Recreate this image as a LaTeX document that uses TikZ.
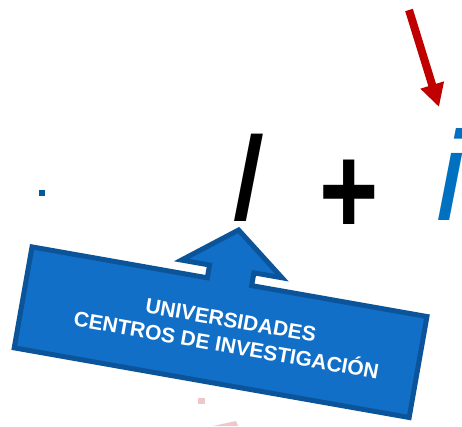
\documentclass[tikz,border=0pt]{standalone}
\usepackage{fontspec}
\setmainfont{Liberation Sans}
\usetikzlibrary{arrows.meta}
\definecolor{calloutfill}{RGB}{18,111,199}
\definecolor{calloutedge}{RGB}{12,84,153}
\definecolor{iblue}{RGB}{0,112,192}
\definecolor{arrowred}{RGB}{192,0,0}
\definecolor{faintpink}{RGB}{238,200,200}
\tikzset{
  bigglyph/.style={inner sep=0pt, outer sep=0pt, anchor=base, font=\fontsize{127}{127}\selectfont},
  callout/.style={fill=calloutfill, draw=calloutedge, line width=5pt, line join=miter},
  callouttext/.style={text=white, align=center, inner sep=0pt, rotate=-10,
    font=\fontsize{21}{25.5}\selectfont\bfseries},
  redarrow/.style={draw=arrowred, line width=8pt, -{Triangle[length=23pt,width=23pt]}}
}
\begin{document}
\begin{tikzpicture}[x=1pt,y=1pt]
\useasboundingbox (0,0) rectangle (462,-426);
% top formula
\node[bigglyph] (bigI) at (247,-221) {\itshape I};
\node[bigglyph, xscale=0.8] (plus) at (349,-234) {\bfseries +};
\node[bigglyph, text=iblue] (smalli) at (451,-220) {\itshape i};
\fill[iblue!80!black] (39,-190) rectangle (45,-196);
% red arrow
\coordinate (rs) at (409,-10);
\coordinate (rt) at (439,-107);
\draw[redarrow] (rs) -- (rt);
% faint pink pieces
\fill[faintpink] (198,-398) rectangle (205,-404);
\fill[faintpink] (213,-426) -- (236,-421) -- (238,-426) -- cycle;
% callout
\begin{scope}[shift={(30,-244)}, rotate=-10]
  \draw[callout] (2.5,-2.5) -- (180.5,-2.5) -- (180.5,10.5) -- (152,10.5)
    -- (203,50) -- (254,10.5) -- (225.5,10.5) -- (225.5,-2.5)
    -- (403.5,-2.5) -- (403.5,-105) -- (2.5,-105) -- cycle;
  \node[callouttext] (ctext) at (211,-53) {UNIVERSIDADES\\CENTROS DE INVESTIGACIÓN};
\end{scope}
\end{tikzpicture}
\end{document}
